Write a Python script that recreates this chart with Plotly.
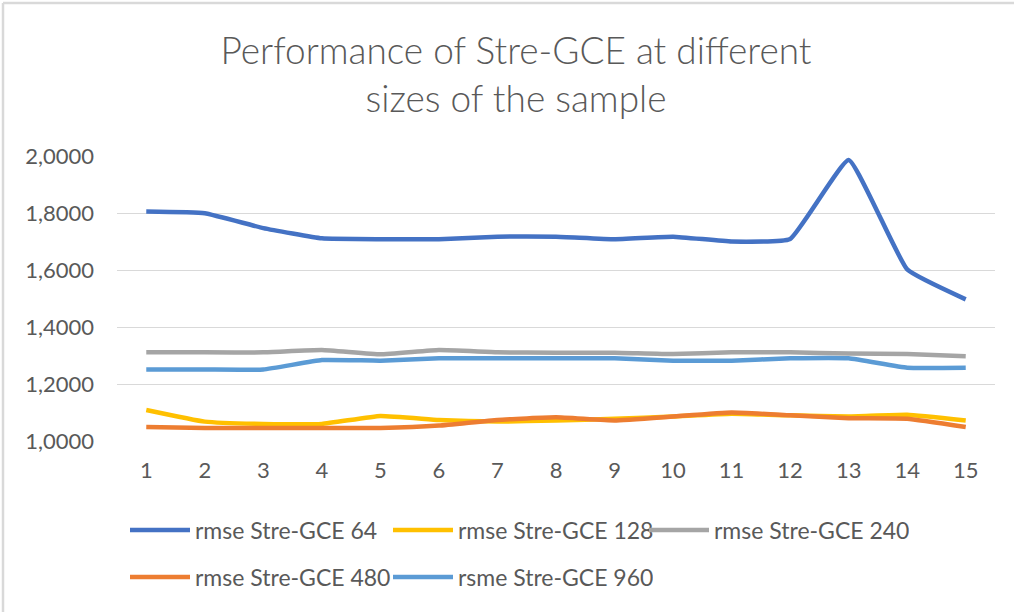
import plotly.graph_objects as go

categories = [str(i) for i in range(1, 16)]
series_names = ["rmse Stre-GCE 64", "rmse Stre-GCE 128", "rmse Stre-GCE 240",
                "rmse Stre-GCE 480", "rsme Stre-GCE 960"]
s64 = [1.805, 1.799, 1.747, 1.711, 1.708, 1.708, 1.717, 1.717, 1.708, 1.717, 1.700, 1.709, 1.986, 1.602, 1.497]
s128 = [1.109, 1.068, 1.060, 1.060, 1.088, 1.074, 1.068, 1.072, 1.078, 1.086, 1.096, 1.090, 1.086, 1.092, 1.072]
s240 = [1.311, 1.311, 1.311, 1.319, 1.304, 1.319, 1.311, 1.310, 1.310, 1.305, 1.311, 1.311, 1.307, 1.305, 1.297]
s480 = [1.049, 1.046, 1.046, 1.046, 1.046, 1.054, 1.074, 1.083, 1.072, 1.086, 1.100, 1.090, 1.080, 1.078, 1.049]
s960 = [1.251, 1.251, 1.251, 1.284, 1.282, 1.290, 1.290, 1.290, 1.290, 1.282, 1.282, 1.290, 1.290, 1.257, 1.257]
all_series = [s64, s128, s240, s480, s960]
colors = ["#4472C4", "#FFC000", "#A5A5A5", "#ED7D31", "#5B9BD5"]
legend_ids = ["legend", "legend", "legend", "legend2", "legend2"]
legend_widths = [188, 181, 190, 188, 190]
y_ticks = [1.0, 1.2, 1.4, 1.6, 1.8, 2.0]
y_ticktext = ["1,0000", "1,2000", "1,4000", "1,6000", "1,8000", "2,0000"]

W, H = 1014, 612
ML, MR, MT, MB = 117, 19, 156, 171
TEXT = "#595959"
FONT = "Lato"

fig = go.Figure()
for name, vals, col, lg, lw in zip(series_names, all_series, colors, legend_ids, legend_widths):
    fig.add_trace(go.Scatter(
        x=categories, y=vals, name=name, mode="lines",
        line=dict(color=col, width=4.5, shape="spline", smoothing=0.35),
        legend=lg, legendwidth=lw,
    ))

pw = W - ML - MR
ph = H - MT - MB
# chart frame (top and left edges visible)
fx0 = (3 - ML) / pw
fy1 = (H - MB - 3) / ph
fig.add_shape(type="line", xref="paper", yref="paper", x0=fx0, x1=(W + 5 - ML) / pw,
              y0=fy1, y1=fy1, line=dict(color="#D9D9D9", width=2.5))
fig.add_shape(type="line", xref="paper", yref="paper", x0=fx0, x1=fx0,
              y0=fy1, y1=-(MB + 5) / ph, line=dict(color="#D9D9D9", width=2.5))

legend_common = dict(orientation="h", font=dict(family=FONT, size=23, color=TEXT),
                     bgcolor="rgba(0,0,0,0)", entrywidthmode="pixels",
                     itemwidth=60,
                     xanchor="left", yanchor="middle", itemclick=False)
fig.update_layout(
    width=W, height=H,
    margin=dict(l=ML, r=MR, t=MT, b=MB),
    paper_bgcolor="white", plot_bgcolor="white",
    title=dict(text="Performance of Stre-GCE at different<br>sizes of the sample",
               x=516 / W, xanchor="center", y=1 - 64 / H, yanchor="middle",
               font=dict(family=FONT, size=37, color=TEXT, weight=300)),
    legend=dict(x=(125 - ML) / pw, y=-(530 - (H - MB)) / ph, **legend_common),
    legend2=dict(x=(125 - ML) / pw, y=-(577 - (H - MB)) / ph, **legend_common),
    xaxis=dict(type="category", range=[-0.5, 14.5], showgrid=False, showline=False,
               zeroline=False, ticks="", ticklabelstandoff=14, automargin=False,
               tickfont=dict(family=FONT, size=22, color=TEXT)),
    yaxis=dict(range=[1.0, 2.0], tickvals=y_ticks, ticktext=y_ticktext,
               showgrid=True, gridcolor="#D9D9D9", gridwidth=1.2, zeroline=False,
               showline=False, ticks="", ticklabelstandoff=22, automargin=False,
               tickfont=dict(family=FONT, size=22, color=TEXT)),
    showlegend=True,
)
fig.write_html("out.html", config={"displayModeBar": False},
               post_script="document.body.style.margin='0';")
